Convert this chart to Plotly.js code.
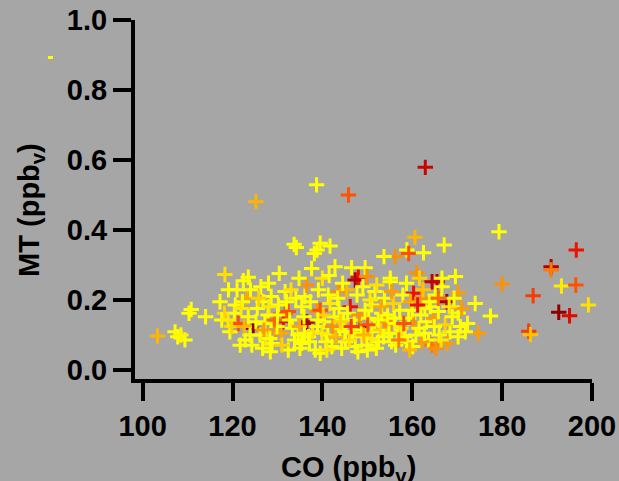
<!DOCTYPE html>
<html>
<head>
<meta charset="utf-8">
<script src="https://cdn.plot.ly/plotly-3.0.1.min.js"></script>
<style>
  html, body { margin: 0; padding: 0; background: #a6a6a6; }
  #chart { width: 619px; height: 481px; }
</style>
</head>
<body>
<div id="chart"></div>
<script>
// CO mixing ratio (ppbv), MT mixing ratio (ppbv) and a colour level (0 = yellow ... 1 = dark red)
const co = [
  103.3, 107.2, 107.8, 109.4, 108.5, 110.8, 110.3, 114.0, 118.2, 119.1,
  118.3, 122.4, 123.5, 128.0, 125.2, 138.7, 145.8, 162.9, 133.7, 139.5,
  141.7, 138.8, 138.2, 134.2, 160.6, 167.1, 156.2, 153.7, 158.8, 159.2,
  162.5, 137.6, 142.8, 146.5, 149.5, 161.0, 148.0, 147.3, 149.9, 155.1,
  140.0, 165.5, 166.6, 169.6, 179.3, 196.5, 190.9, 190.9, 180.0, 193.2,
  196.4, 186.9, 199.2, 192.6, 195.0, 185.9, 186.3, 174.0, 177.4, 174.7,
  171.8, 170.2, 170.2, 171.0, 170.2, 160.3, 167.7, 162.1, 165.1, 166.6,
  164.4, 155.1, 151.7, 143.6, 141.3, 136.1, 135.4, 146.2, 138.8, 136.5,
  151.0, 153.2, 154.0, 155.1, 156.2, 159.2, 160.3, 163.2, 164.7, 165.8,
  168.4, 164.4, 163.6, 162.1, 148.4, 148.8, 151.0, 152.5, 145.1, 142.1,
  138.4, 139.5, 135.4, 147.3, 155.4, 158.4, 117.6, 119.4, 120.6, 123.2,
  121.3, 124.6, 123.5, 127.2, 131.7, 131.3, 129.5, 128.8, 124.3, 122.8,
  132.4, 128.4, 131.7, 136.5, 132.4, 136.5, 139.5, 130.8, 119.8, 121.0,
  125.5, 126.8, 128.6, 130.2, 127.9, 126.1, 127.4, 129.9, 133.3, 134.6,
  133.8, 136.9, 137.8, 138.9, 140.4, 141.2, 140.8, 143.0, 143.9, 142.6,
  144.7, 145.6, 147.1, 148.2, 149.5, 150.3, 151.6, 152.9, 150.8, 146.7,
  144.3, 146.0, 149.9, 153.6, 156.7, 157.5, 158.9, 160.8, 161.5, 161.9,
  162.8, 157.2, 155.8, 153.8, 157.9, 159.6, 163.8, 167.3, 166.0, 168.9,
  169.3, 172.3, 167.8, 165.3, 160.1, 156.3, 137.3, 134.1, 139.1, 141.7,
  143.4, 145.4, 147.7, 149.0, 152.1, 144.5, 141.5, 134.8, 130.4, 126.3,
  124.0, 122.2, 120.4, 119.0, 122.6, 125.2, 128.1, 132.0, 135.9, 137.1,
  139.9, 142.3, 145.0, 148.6, 150.1, 152.4, 154.5, 156.0, 158.1, 160.0,
  162.4, 164.0, 153.0, 131.0, 126.7, 123.9, 121.7, 135.0, 141.0, 147.9,
  152.0, 143.7, 140.2, 133.0, 129.3, 127.0, 134.9, 150.6, 155.4, 158.7,
  161.6, 168.2, 164.9, 159.4, 157.0, 149.2, 146.4, 144.0, 139.0, 132.7,
  130.0, 125.8, 121.9, 117.2, 128.3, 136.0, 150.0, 154.8, 162.7, 166.4,
  170.7, 165.8, 161.2
];
const mt = [
  0.097, 0.109, 0.095, 0.086, 0.100, 0.173, 0.162, 0.152, 0.162, 0.229,
  0.273, 0.255, 0.265, 0.248, 0.481, 0.529, 0.500, 0.579, 0.359, 0.362,
  0.354, 0.343, 0.333, 0.350, 0.379, 0.357, 0.324, 0.324, 0.343, 0.333,
  0.335, 0.290, 0.295, 0.292, 0.292, 0.278, 0.265, 0.257, 0.267, 0.262,
  0.262, 0.252, 0.262, 0.267, 0.395, 0.343, 0.295, 0.286, 0.246, 0.240,
  0.243, 0.212, 0.186, 0.165, 0.155, 0.111, 0.101, 0.190, 0.154, 0.105,
  0.109, 0.095, 0.163, 0.176, 0.220, 0.219, 0.195, 0.205, 0.214, 0.238,
  0.252, 0.252, 0.224, 0.224, 0.214, 0.210, 0.181, 0.181, 0.167, 0.138,
  0.186, 0.162, 0.138, 0.129, 0.133, 0.148, 0.133, 0.138, 0.148, 0.167,
  0.109, 0.071, 0.086, 0.081, 0.124, 0.095, 0.109, 0.081, 0.081, 0.067,
  0.057, 0.048, 0.076, 0.067, 0.081, 0.095, 0.143, 0.109, 0.186, 0.208,
  0.133, 0.119, 0.152, 0.133, 0.162, 0.138, 0.109, 0.076, 0.071, 0.086,
  0.057, 0.052, 0.224, 0.243, 0.167, 0.133, 0.171, 0.105, 0.124, 0.229,
  0.176, 0.195, 0.210, 0.186, 0.157, 0.100, 0.090, 0.124, 0.119, 0.100,
  0.086, 0.095, 0.110, 0.124, 0.138, 0.100, 0.081, 0.095, 0.119, 0.152,
  0.143, 0.162, 0.143, 0.157, 0.171, 0.148, 0.129, 0.114, 0.090, 0.105,
  0.062, 0.086, 0.071, 0.095, 0.105, 0.119, 0.081, 0.100, 0.119, 0.157,
  0.176, 0.171, 0.190, 0.205, 0.214, 0.195, 0.195, 0.129, 0.100, 0.152,
  0.205, 0.133, 0.076, 0.062, 0.067, 0.071, 0.195, 0.205, 0.229, 0.190,
  0.205, 0.229, 0.214, 0.238, 0.243, 0.248, 0.270, 0.262, 0.276, 0.238,
  0.229, 0.195, 0.162, 0.143, 0.124, 0.138, 0.181, 0.195, 0.152, 0.081,
  0.105, 0.124, 0.110, 0.114, 0.129, 0.143, 0.157, 0.148, 0.133, 0.171,
  0.229, 0.181, 0.181, 0.071, 0.062, 0.100, 0.071, 0.062, 0.057, 0.052,
  0.062, 0.176, 0.157, 0.229, 0.143, 0.114, 0.124, 0.200, 0.224, 0.248,
  0.262, 0.181, 0.124, 0.057, 0.086, 0.100, 0.124, 0.138, 0.143, 0.143,
  0.157, 0.205, 0.176, 0.195, 0.090, 0.105, 0.057, 0.105, 0.105, 0.086,
  0.124, 0.205, 0.186
];
const level = [
  0.30, 0.00, 0.00, 0.00, 0.05, 0.00, 0.00, 0.00, 0.20, 0.00,
  0.15, 0.00, 0.00, 0.00, 0.30, 0.00, 0.60, 0.85, 0.00, 0.00,
  0.00, 0.00, 0.00, 0.00, 0.30, 0.00, 0.45, 0.00, 0.00, 0.60,
  0.00, 0.00, 0.00, 0.00, 0.00, 0.45, 0.75, 0.90, 0.45, 0.00,
  0.15, 0.90, 0.00, 0.00, 0.00, 0.75, 0.90, 0.50, 0.45, 0.10,
  0.60, 0.65, 0.15, 0.95, 0.80, 0.65, 0.25, 0.00, 0.00, 0.40,
  0.00, 0.00, 0.00, 0.40, 0.40, 0.75, 0.90, 0.45, 0.00, 0.00,
  0.85, 0.00, 0.00, 0.45, 0.00, 0.00, 0.00, 0.75, 0.45, 0.85,
  0.00, 0.00, 0.45, 0.45, 0.00, 0.00, 0.45, 0.00, 0.40, 0.00,
  0.00, 0.50, 0.00, 0.40, 0.95, 0.00, 0.00, 0.00, 0.00, 0.00,
  0.00, 0.00, 0.00, 0.00, 0.00, 0.00, 0.00, 0.00, 0.00, 0.35,
  0.60, 0.95, 0.00, 0.00, 0.60, 0.75, 0.45, 0.00, 0.00, 0.00,
  0.00, 0.00, 0.00, 0.45, 0.60, 0.90, 0.60, 0.35, 0.20, 0.00,
  0.00, 0.00, 0.00, 0.00, 0.00, 0.00, 0.10, 0.00, 0.00, 0.00,
  0.00, 0.00, 0.15, 0.00, 0.00, 0.00, 0.00, 0.30, 0.00, 0.00,
  0.00, 0.00, 0.00, 0.45, 0.00, 0.00, 0.00, 0.20, 0.10, 0.00,
  0.00, 0.15, 0.00, 0.00, 0.00, 0.10, 0.00, 0.00, 0.00, 0.00,
  0.00, 0.00, 0.20, 0.00, 0.00, 0.35, 0.00, 0.20, 0.00, 0.00,
  0.00, 0.00, 0.40, 0.45, 0.00, 0.00, 0.00, 0.00, 0.00, 0.10,
  0.00, 0.30, 0.00, 0.00, 0.15, 0.00, 0.00, 0.00, 0.00, 0.00,
  0.00, 0.00, 0.00, 0.10, 0.30, 0.00, 0.10, 0.00, 0.00, 0.00,
  0.10, 0.45, 0.00, 0.00, 0.60, 0.00, 0.00, 0.00, 0.60, 0.00,
  0.25, 0.00, 0.35, 0.20, 0.00, 0.00, 0.00, 0.00, 0.10, 0.00,
  0.00, 0.00, 0.20, 0.15, 0.55, 0.40, 0.35, 0.10, 0.40, 0.00,
  0.20, 0.10, 0.00, 0.30, 0.50, 0.30, 0.65, 0.20, 0.00, 0.00,
  0.00, 0.20, 0.10, 0.00, 0.00, 0.00, 0.00, 0.00, 0.00, 0.10,
  0.00, 0.55, 0.75
];

const xTicks = [100, 120, 140, 160, 180, 200];
const yTicks = [0.0, 0.2, 0.4, 0.6, 0.8, 1.0];
const xTitle = 'CO (ppb<sub>v</sub>)';
const yTitle = 'MT (ppb<sub>v</sub>)';

const boldFont = { family: 'Liberation Sans, Arial, sans-serif', size: 29, color: '#000', weight: 'bold' };

const trace = {
  type: 'scatter',
  mode: 'markers',
  x: co,
  y: mt,
  cliponaxis: false,
  hoverinfo: 'skip',
  marker: {
    symbol: 'cross-thin-open',
    size: 11,
    color: level,
    cmin: 0,
    cmax: 1,
    colorscale: [
      [0.00, '#ffff00'],
      [0.15, '#ffe000'],
      [0.30, '#ffb600'],
      [0.45, '#ff9000'],
      [0.60, '#ff5200'],
      [0.75, '#ee1000'],
      [0.90, '#b40000'],
      [1.00, '#6e0000']
    ],
    showscale: false,
    line: { width: 3 }
  }
};

const axisCommon = {
  showline: true,
  linecolor: '#000',
  linewidth: 4,
  ticks: 'outside',
  ticklen: 18,
  tickwidth: 4,
  tickcolor: '#000',
  showgrid: false,
  zeroline: false,
  tickfont: boldFont
};

const layout = {
  width: 619,
  height: 481,
  paper_bgcolor: '#a6a6a6',
  plot_bgcolor: '#a6a6a6',
  showlegend: false,
  margin: { l: 135, r: 27, t: 20, b: 102 },
  xaxis: Object.assign({}, axisCommon, {
    range: [98.29, 200],
    tickvals: xTicks
  }),
  yaxis: Object.assign({}, axisCommon, {
    range: [-0.0257, 1.0],
    tickvals: yTicks,
    tickformat: '.1f'
  }),
  // axis titles placed as annotations so they can sit low / far left in the margins
  annotations: [
    {
      text: xTitle, font: boldFont, showarrow: false,
      xref: 'paper', yref: 'paper', x: 0.4664, y: -0.2507,
      xanchor: 'center', yanchor: 'middle'
    },
    {
      text: yTitle, font: boldFont, showarrow: false, textangle: -90,
      xref: 'paper', yref: 'paper', x: -0.2277, y: 0.4708,
      xanchor: 'center', yanchor: 'middle'
    }
  ],
  shapes: [{
    type: 'rect', xref: 'paper', yref: 'paper',
    x0: -0.1905, x1: -0.1795, y0: 0.8914, y1: 0.8997,
    fillcolor: '#ffff00', line: { width: 0 }
  }]
};

Plotly.newPlot('chart', [trace], layout, { staticPlot: true, displayModeBar: false });
</script>
</body>
</html>
